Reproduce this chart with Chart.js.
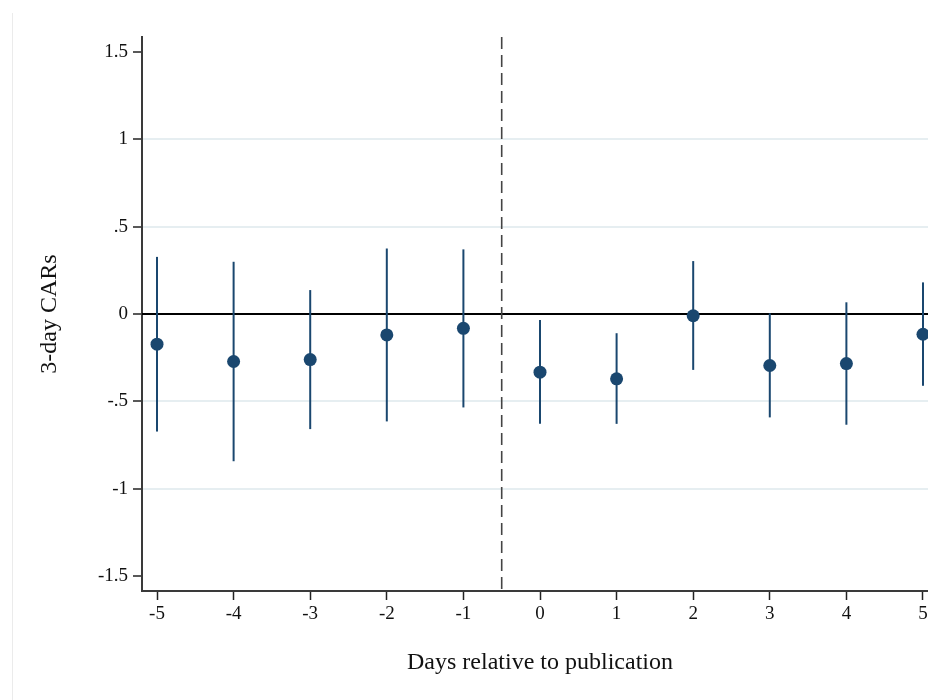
<!DOCTYPE html>
<html>
<head>
<meta charset="utf-8">
<script src="https://cdn.jsdelivr.net/npm/chart.js@4/dist/chart.umd.min.js"></script>
<style>
  html, body { margin: 0; padding: 0; background: #fff; overflow: hidden; width: 928px; height: 700px; }
  #wrap { position: relative; width: 928px; height: 700px; overflow: hidden; }
  #edge { position: absolute; left: 12px; top: 13px; height: 700px; border-left: 1px solid #ebebeb; }
  canvas { position: absolute; left: 0; top: 0; }
</style>
</head>
<body>
<div id="wrap">
  <canvas id="carChart" width="938" height="700"></canvas>
  <div id="edge"></div>
</div>
<script>
// dias relativos a la publicacion
const days = [-5, -4, -3, -2, -1, 0, 1, 2, 3, 4, 5];
// estimacion puntual y limites del intervalo
const estimate = [-0.173, -0.272, -0.261, -0.120, -0.082, -0.333, -0.371, -0.010, -0.295, -0.284, -0.116];
const ciLow    = [-0.673, -0.843, -0.659, -0.615, -0.535, -0.629, -0.629, -0.320, -0.592, -0.634, -0.411];
const ciHigh   = [ 0.327,  0.299,  0.137,  0.375,  0.370, -0.034, -0.110,  0.303,  0.004,  0.067,  0.181];

const xTicks = [-5, -4, -3, -2, -1, 0, 1, 2, 3, 4, 5];
const yTicks = [-1.5, -1, -0.5, 0, 0.5, 1, 1.5];
const yTickLabels = ['-1.5', '-1', '-.5', '0', '.5', '1', '1.5'];
const eventLine = -0.5;

const navy = '#1a476f';
const serif = '"Liberation Serif", "Times New Roman", serif';

// lineas de referencia: cero y evento
const refLines = {
    id: 'refLines',
    beforeDatasetsDraw(chart) {
        const {ctx, chartArea, scales} = chart;
        const y0 = scales.y.getPixelForValue(0);
        const xe = scales.x.getPixelForValue(eventLine);
        ctx.save();
        ctx.strokeStyle = '#000';
        ctx.lineWidth = 2;
        ctx.beginPath();
        ctx.moveTo(chartArea.left, y0);
        ctx.lineTo(chartArea.right, y0);
        ctx.stroke();
        ctx.strokeStyle = '#444';
        ctx.lineWidth = 1.6;
        ctx.setLineDash([12, 6]);
        ctx.beginPath();
        ctx.moveTo(xe, chartArea.top);
        ctx.lineTo(xe, chartArea.bottom);
        ctx.stroke();
        ctx.restore();
    }
};

const ciSets = days.map((d, i) => ({
    type: 'line',
    data: [{x: d, y: ciLow[i]}, {x: d, y: ciHigh[i]}],
    borderColor: navy,
    borderWidth: 2,
    pointRadius: 0,
    showLine: true,
    order: 2
}));

const pointSet = {
    type: 'scatter',
    data: days.map((d, i) => ({x: d, y: estimate[i]})),
    backgroundColor: navy,
    borderWidth: 0,
    pointRadius: 6.5,
    order: 1
};

new Chart(document.getElementById('carChart'), {
    type: 'scatter',
    data: { datasets: [...ciSets, pointSet] },
    plugins: [refLines],
    options: {
        responsive: false,
        animation: false,
        devicePixelRatio: 1,
        layout: { autoPadding: false, padding: { top: 37, left: 0, right: 0, bottom: 0 } },
        plugins: { legend: { display: false }, tooltip: { enabled: false } },
        scales: {
            x: {
                type: 'linear',
                min: -5.196,
                max: 5.196,
                afterBuildTicks: s => { s.ticks = xTicks.map(v => ({value: v})); },
                afterFit: s => { s.height = 109; },
                border: { color: '#3a3a3a', width: 2 },
                grid: { drawOnChartArea: false, tickLength: 9, tickColor: '#222', tickWidth: 1.5 },
                ticks: { color: '#111', font: { family: serif, size: 19 }, padding: 3, maxRotation: 0, autoSkip: false },
                title: {
                    display: true,
                    text: 'Days relative to publication',
                    color: '#111',
                    font: { family: serif, size: 24 },
                    padding: { top: 23, bottom: 23 }
                }
            },
            y: {
                min: -1.586,
                max: 1.586,
                afterBuildTicks: s => { s.ticks = yTicks.map(v => ({value: v})); },
                afterFit: s => { s.width = 142; },
                border: { color: '#3a3a3a', width: 2 },
                grid: {
                    tickLength: 9,
                    tickColor: '#222',
                    tickWidth: 1.5,
                    color: c => (Math.abs(c.tick.value) === 1.5 || c.tick.value === 0) ? 'rgba(0,0,0,0)' : '#e6eef1',
                    lineWidth: 2
                },
                ticks: {
                    color: '#111',
                    font: { family: serif, size: 19 },
                    padding: 5,
                    callback: v => yTickLabels[yTicks.indexOf(v)]
                },
                title: {
                    display: true,
                    text: '3-day CARs',
                    color: '#111',
                    font: { family: serif, size: 24 },
                    padding: { top: 35, bottom: 35 }
                }
            }
        }
    }
});
</script>
</body>
</html>
